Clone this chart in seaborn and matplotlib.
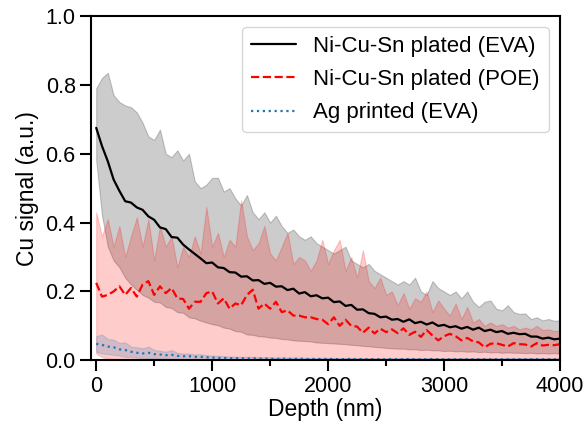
import numpy as np
import pandas as pd
import matplotlib
matplotlib.use("Agg")
import matplotlib.pyplot as plt
import seaborn as sns

# depth grid (nm), 50 nm steps
depth = np.arange(0, 4001, 50)

# Ni-Cu-Sn plated (EVA): mean and band
eva_mean = [0.675, 0.622, 0.578, 0.525, 0.492, 0.462, 0.458, 0.444, 0.437, 0.418,
            0.408, 0.386, 0.381, 0.358, 0.356, 0.336, 0.322, 0.309, 0.296, 0.282,
            0.284, 0.270, 0.268, 0.256, 0.255, 0.243, 0.244, 0.232, 0.233, 0.222,
            0.225, 0.214, 0.215, 0.204, 0.208, 0.194, 0.198, 0.186, 0.189, 0.180,
            0.182, 0.169, 0.171, 0.158, 0.161, 0.147, 0.148, 0.137, 0.135, 0.125,
            0.127, 0.118, 0.120, 0.112, 0.119, 0.108, 0.112, 0.104, 0.110, 0.100,
            0.103, 0.096, 0.099, 0.092, 0.097, 0.089, 0.095, 0.085, 0.089, 0.082,
            0.085, 0.077, 0.080, 0.076, 0.077, 0.069, 0.069, 0.063, 0.066, 0.061, 0.063]
eva_hi = [0.79, 0.82, 0.835, 0.77, 0.75, 0.74, 0.735, 0.72, 0.69, 0.65,
          0.64, 0.67, 0.60, 0.59, 0.61, 0.58, 0.60, 0.52, 0.50, 0.51,
          0.53, 0.53, 0.49, 0.50, 0.47, 0.45, 0.48, 0.43, 0.41, 0.43,
          0.40, 0.42, 0.39, 0.37, 0.38, 0.36, 0.35, 0.36, 0.34, 0.33,
          0.32, 0.31, 0.32, 0.33, 0.29, 0.28, 0.27, 0.28, 0.26, 0.25,
          0.24, 0.23, 0.22, 0.23, 0.22, 0.24, 0.20, 0.19, 0.23, 0.21,
          0.20, 0.19, 0.20, 0.18, 0.20, 0.17, 0.155, 0.17, 0.174, 0.15,
          0.145, 0.16, 0.14, 0.135, 0.136, 0.12, 0.125, 0.116, 0.12, 0.115, 0.116]
eva_lo = [0.58, 0.42, 0.33, 0.29, 0.27, 0.24, 0.22, 0.205, 0.19, 0.182,
          0.17, 0.168, 0.155, 0.152, 0.14, 0.138, 0.125, 0.122, 0.115, 0.11,
          0.105, 0.102, 0.095, 0.092, 0.085, 0.083, 0.075, 0.074, 0.07, 0.069,
          0.066, 0.065, 0.062, 0.061, 0.058, 0.057, 0.056, 0.055, 0.052, 0.051,
          0.05, 0.049, 0.048, 0.047, 0.045, 0.044, 0.042, 0.041, 0.039, 0.038,
          0.036, 0.035, 0.034, 0.034, 0.032, 0.032, 0.030, 0.031, 0.029, 0.029,
          0.027, 0.028, 0.026, 0.027, 0.025, 0.026, 0.024, 0.025, 0.023, 0.024,
          0.022, 0.023, 0.022, 0.022, 0.021, 0.022, 0.020, 0.021, 0.020, 0.021, 0.020]

# Ni-Cu-Sn plated (POE)
poe_mean = [0.225, 0.185, 0.19, 0.20, 0.215, 0.19, 0.21, 0.185, 0.22, 0.23,
            0.19, 0.215, 0.195, 0.21, 0.18, 0.178, 0.15, 0.17, 0.17, 0.195,
            0.20, 0.165, 0.18, 0.15, 0.165, 0.16, 0.19, 0.205, 0.15, 0.165,
            0.15, 0.17, 0.14, 0.145, 0.13, 0.13, 0.125, 0.125, 0.12, 0.118,
            0.105, 0.125, 0.10, 0.118, 0.10, 0.098, 0.08, 0.095, 0.078, 0.092,
            0.082, 0.09, 0.079, 0.093, 0.074, 0.083, 0.068, 0.088, 0.072, 0.058,
            0.07, 0.077, 0.07, 0.058, 0.065, 0.055, 0.052, 0.038, 0.048, 0.05,
            0.045, 0.04, 0.05, 0.047, 0.046, 0.04, 0.05, 0.043, 0.045, 0.044, 0.047]
poe_hi = [0.43, 0.36, 0.41, 0.33, 0.39, 0.30, 0.36, 0.415, 0.33, 0.41,
          0.29, 0.39, 0.33, 0.36, 0.27, 0.33, 0.30, 0.36, 0.31, 0.445,
          0.33, 0.37, 0.30, 0.35, 0.33, 0.465, 0.36, 0.32, 0.34, 0.39,
          0.31, 0.29, 0.33, 0.37, 0.28, 0.30, 0.29, 0.26, 0.29, 0.35,
          0.28, 0.32, 0.35, 0.26, 0.30, 0.24, 0.32, 0.23, 0.21, 0.24,
          0.19, 0.20, 0.16, 0.195, 0.15, 0.18, 0.17, 0.20, 0.14, 0.174,
          0.15, 0.13, 0.165, 0.12, 0.155, 0.11, 0.12, 0.10, 0.11, 0.10,
          0.105, 0.095, 0.10, 0.09, 0.095, 0.09, 0.10, 0.088, 0.09, 0.085, 0.087]
poe_lo = [0.02, 0.01, 0.005, 0.004, 0.003, 0.003, 0.002, 0.002, 0.002, 0.002,
          0.002, 0.002, 0.002, 0.002, 0.002, 0.002, 0.002, 0.002, 0.002, 0.002,
          0.003, 0.003, 0.003, 0.003, 0.003, 0.003, 0.003, 0.003, 0.003, 0.003,
          0.004, 0.004, 0.004, 0.004, 0.004, 0.004, 0.004, 0.004, 0.004, 0.004,
          0.005, 0.005, 0.005, 0.005, 0.005, 0.005, 0.005, 0.005, 0.005, 0.005,
          0.005, 0.005, 0.005, 0.005, 0.005, 0.005, 0.005, 0.005, 0.005, 0.005,
          0.005, 0.005, 0.005, 0.005, 0.005, 0.005, 0.005, 0.005, 0.005, 0.005,
          0.005, 0.005, 0.005, 0.005, 0.005, 0.005, 0.005, 0.005, 0.005, 0.005, 0.005]

# Ag printed (EVA)
ag_mean = [0.048, 0.045, 0.040, 0.038, 0.032, 0.030, 0.025, 0.022, 0.020, 0.022,
           0.018, 0.017, 0.015, 0.016, 0.013, 0.012, 0.012, 0.010, 0.010, 0.009,
           0.008, 0.007, 0.007, 0.006, 0.006, 0.006, 0.005, 0.006, 0.005, 0.005,
           0.005, 0.004, 0.005, 0.004, 0.004, 0.005, 0.004, 0.004, 0.004, 0.004,
           0.004, 0.004, 0.003, 0.004, 0.004, 0.003, 0.004, 0.003, 0.004, 0.003,
           0.003, 0.004, 0.003, 0.003, 0.004, 0.003, 0.003, 0.003, 0.004, 0.003,
           0.003, 0.003, 0.003, 0.003, 0.003, 0.003, 0.003, 0.003, 0.003, 0.003,
           0.003, 0.003, 0.003, 0.003, 0.003, 0.003, 0.003, 0.003, 0.003, 0.003, 0.003]
ag_hi = [0.070, 0.075, 0.062, 0.060, 0.050, 0.052, 0.040, 0.038, 0.035, 0.040,
         0.030, 0.028, 0.025, 0.030, 0.022, 0.020, 0.020, 0.017, 0.018, 0.015,
         0.014, 0.013, 0.012, 0.011, 0.011, 0.010, 0.010, 0.010, 0.009, 0.009,
         0.009, 0.008, 0.009, 0.008, 0.008, 0.008, 0.007, 0.007, 0.007, 0.007,
         0.007, 0.007, 0.006, 0.007, 0.007, 0.006, 0.006, 0.006, 0.006, 0.006,
         0.006, 0.006, 0.006, 0.006, 0.006, 0.006, 0.006, 0.006, 0.006, 0.006,
         0.006, 0.006, 0.006, 0.006, 0.006, 0.006, 0.006, 0.006, 0.006, 0.006,
         0.006, 0.006, 0.006, 0.006, 0.006, 0.006, 0.006, 0.006, 0.006, 0.006, 0.006]
ag_lo = [0.025, 0.020, 0.018, 0.016, 0.014, 0.010, 0.010, 0.008, 0.007, 0.006,
         0.006, 0.005, 0.005, 0.004, 0.004, 0.004, 0.003, 0.003, 0.003, 0.003,
         0.002, 0.002, 0.002, 0.002, 0.002, 0.002, 0.001, 0.001, 0.001, 0.001,
         0.001, 0.001, 0.001, 0.001, 0.001, 0.001, 0.001, 0.001, 0.001, 0.001,
         0.001, 0.001, 0.001, 0.001, 0.001, 0.001, 0.001, 0.001, 0.001, 0.001,
         0.001, 0.001, 0.001, 0.001, 0.001, 0.001, 0.001, 0.001, 0.001, 0.001,
         0.001, 0.001, 0.001, 0.001, 0.001, 0.001, 0.001, 0.001, 0.001, 0.001,
         0.001, 0.001, 0.001, 0.001, 0.001, 0.001, 0.001, 0.001, 0.001, 0.001, 0.001]

sns.set_style("ticks")
plt.rcParams['font.family'] = ['Liberation Sans', 'DejaVu Sans']
plt.rcParams['text.color'] = 'black'
plt.rcParams['axes.labelcolor'] = 'black'
plt.rcParams['xtick.color'] = 'black'
plt.rcParams['ytick.color'] = 'black'

fig = plt.figure(figsize=(5.87, 4.30), dpi=100)
ax = fig.add_axes([0.155, 0.162, 0.799, 0.801])

series = [
    ("Ni-Cu-Sn plated (EVA)", eva_mean, eva_lo, eva_hi, "black", "-"),
    ("Ni-Cu-Sn plated (POE)", poe_mean, poe_lo, poe_hi, "red", "--"),
    ("Ag printed (EVA)", ag_mean, ag_lo, ag_hi, "tab:blue", ":"),
]

for label, m, lo, hi, color, ls in series:
    ax.fill_between(depth, lo, hi, color=color, alpha=0.2, linewidth=0.8)

for label, m, lo, hi, color, ls in series:
    sns.lineplot(x=depth, y=m, ax=ax, color=color, linestyle=ls,
                 linewidth=1.6, label=label)

ax.set_xlim(-45, 4000)
ax.set_ylim(0, 1.0)
ax.set_xticks([0, 1000, 2000, 3000, 4000])
ax.set_xticks([500, 1500, 2500, 3500], minor=True)
ax.set_yticks([0, 0.2, 0.4, 0.6, 0.8, 1.0])
ax.set_xlabel("Depth (nm)", fontsize=16.5, labelpad=1)
ax.set_ylabel("Cu signal (a.u.)", fontsize=16.5, labelpad=5)
ax.tick_params(axis='both', which='major', labelsize=15.5, length=8, width=1.5,
               direction='out', pad=3)
ax.tick_params(axis='x', which='minor', length=4.5, width=1.5, direction='out')
for sp in ax.spines.values():
    sp.set_linewidth(1.5)
    sp.set_color("black")

ax.legend(loc='upper right', fontsize=16, frameon=True, fancybox=True,
          borderaxespad=0.5, labelspacing=0.55)

fig.savefig("out.png", dpi=100)
